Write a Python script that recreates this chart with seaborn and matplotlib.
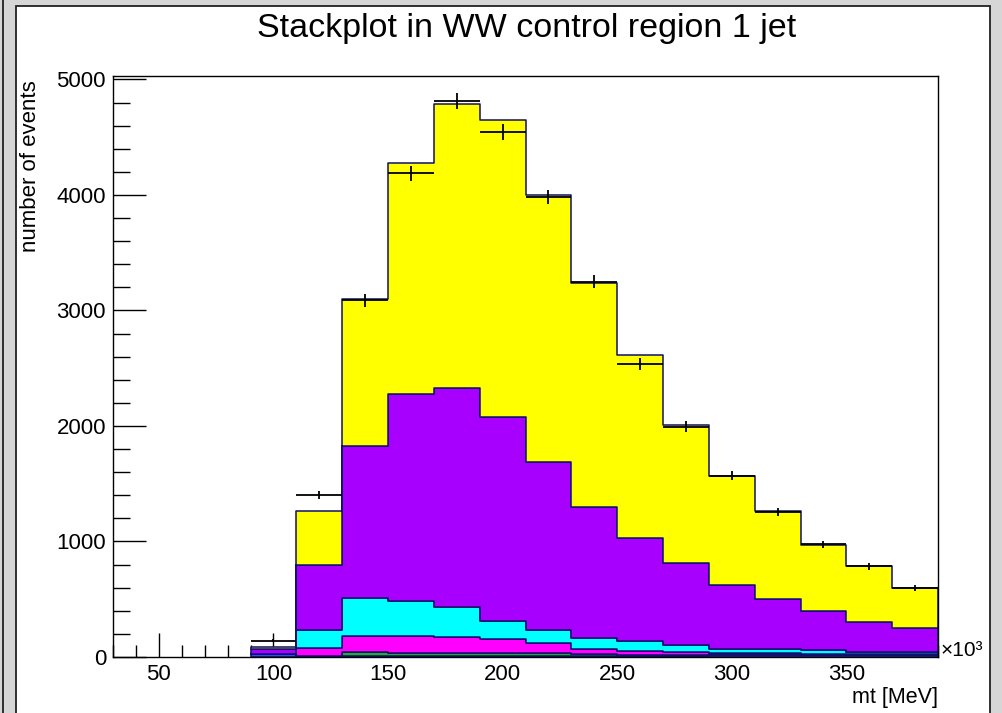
import numpy as np
import pandas as pd
import matplotlib
matplotlib.use("Agg")
import matplotlib.pyplot as plt
from matplotlib.patches import Rectangle
from matplotlib.lines import Line2D
from matplotlib.ticker import MultipleLocator
import seaborn as sns

# ---------------- data ----------------
bin_edges = [90, 110, 130, 150, 170, 190, 210, 230, 250, 270, 290, 310, 330, 350, 370, 390]

# per-component contributions per bin (bottom of stack -> top)
blue_vals    = [30,   8,   8,   8,   8,   8,   8,   8,   8,   8,  18,  18,  18,  18,  18]
green_vals   = [0,    0,  35,  28,  28,  28,  28,  15,  10,   8,   4,   4,   3,   2,   2]
magenta_vals = [0,   70, 139, 144, 137, 120,  85,  47,  37,  29,  13,  10,   9,   8,   7]
cyan_vals    = [0,  156, 329, 305, 260, 156, 113,  98,  84,  55,  34,  33,  30,  12,  13]
violet_vals  = [35, 563, 1316, 1792, 1896, 1766, 1450, 1127, 891, 714, 554, 437, 338, 263, 211]
yellow_vals  = [22, 467, 1273, 2000, 2459, 2572, 2316, 1943, 1585, 1195, 944, 758, 572, 482, 346]

data_vals    = [140, 1403, 3090, 4190, 4814, 4545, 3983, 3250, 2537, 1995, 1570, 1255, 975, 785, 600]

components = ["yellow", "violet", "cyan", "magenta", "green", "blue"]  # top -> bottom
comp_values = {
    "yellow": yellow_vals, "violet": violet_vals, "cyan": cyan_vals,
    "magenta": magenta_vals, "green": green_vals, "blue": blue_vals,
}
palette = {
    "yellow": "#ffff00", "violet": "#a800ff", "cyan": "#00ffff",
    "magenta": "#ff00ff", "green": "#2fa82f", "blue": "#2f4cff",
}

title = "Stackplot in WW control region 1 jet"
xlabel = "mt [MeV]"
ylabel = "number of events"

edges = np.array(bin_edges, dtype=float)
centers = 0.5 * (edges[:-1] + edges[1:])
half_w = 0.5 * np.diff(edges)

rows = []
for c in components:
    for xc, v in zip(centers, comp_values[c]):
        rows.append({"mt": xc, "events": v, "process": c})
df = pd.DataFrame(rows)

# ---------------- figure ----------------
sns.set_theme(style="white")
plt.rcParams["font.family"] = ["Liberation Sans", "DejaVu Sans"]
plt.rcParams.update({"text.color": "black", "axes.labelcolor": "black",
                     "xtick.color": "black", "ytick.color": "black"})

W, H = 1002, 713
fig = plt.figure(figsize=(W / 100, H / 100), dpi=100)
fig.patch.set_facecolor("#d6d6d6")

# white canvas panel, ROOT-window-like frame
fig.add_artist(Rectangle((16 / W, -0.01), (990 - 16) / W, (H - 6) / H + 0.01,
                         transform=fig.transFigure, facecolor="white",
                         edgecolor="#222222", lw=1.3, zorder=-10))
fig.add_artist(Line2D([3 / W, 3 / W], [0, 1], transform=fig.transFigure,
                      color="#222222", lw=1.3, zorder=-9))

ax = fig.add_axes([113 / W, 56 / H, 825 / W, 581 / H])
ax.set_facecolor("white")

sns.histplot(data=df, x="mt", weights="events", hue="process",
             hue_order=components, palette=palette, bins=list(bin_edges),
             multiple="stack", element="step", fill=True, alpha=1,
             edgecolor="#10106e", linewidth=1.1, legend=False, ax=ax)

ax.errorbar(centers, data_vals, xerr=half_w, yerr=np.sqrt(data_vals),
            fmt="none", ecolor="black", elinewidth=1.3, capsize=0, zorder=6)

ax.set_xlim(30, 390)
ax.set_ylim(0, 5030)
ax.set_xlabel("")
ax.set_ylabel("")

ax.xaxis.set_major_locator(MultipleLocator(50))
ax.xaxis.set_minor_locator(MultipleLocator(10))
ax.yaxis.set_major_locator(MultipleLocator(1000))
ax.yaxis.set_minor_locator(MultipleLocator(200))
ax.tick_params(which="both", direction="in", top=False, right=False,
               bottom=True, left=True, colors="black", width=1.0)
ax.tick_params(axis="x", which="major", length=17, labelsize=16, pad=5)
ax.tick_params(axis="x", which="minor", length=9)
ax.tick_params(axis="y", which="major", length=24, labelsize=16, pad=5)
ax.tick_params(axis="y", which="minor", length=12)
for s in ax.spines.values():
    s.set_color("black")
    s.set_linewidth(1.0)
    s.set_zorder(7)

# texts
fig.text(527 / W, 1 - 28 / H, title, ha="center", va="center", fontsize=24.5,
         color="black")
ax.text(1.003, 0.012, "\u00d710\u00b3", transform=ax.transAxes,
        ha="left", va="center", fontsize=15, color="black")
fig.text(938 / W, 1 - 697 / H, xlabel, ha="right", va="center", fontsize=15.5,
         color="black")
fig.text(31 / W, 1 - 80 / H, ylabel, rotation=90, ha="center", va="top",
         fontsize=16, color="black")

fig.savefig("out.png", dpi=100, facecolor=fig.get_facecolor())
